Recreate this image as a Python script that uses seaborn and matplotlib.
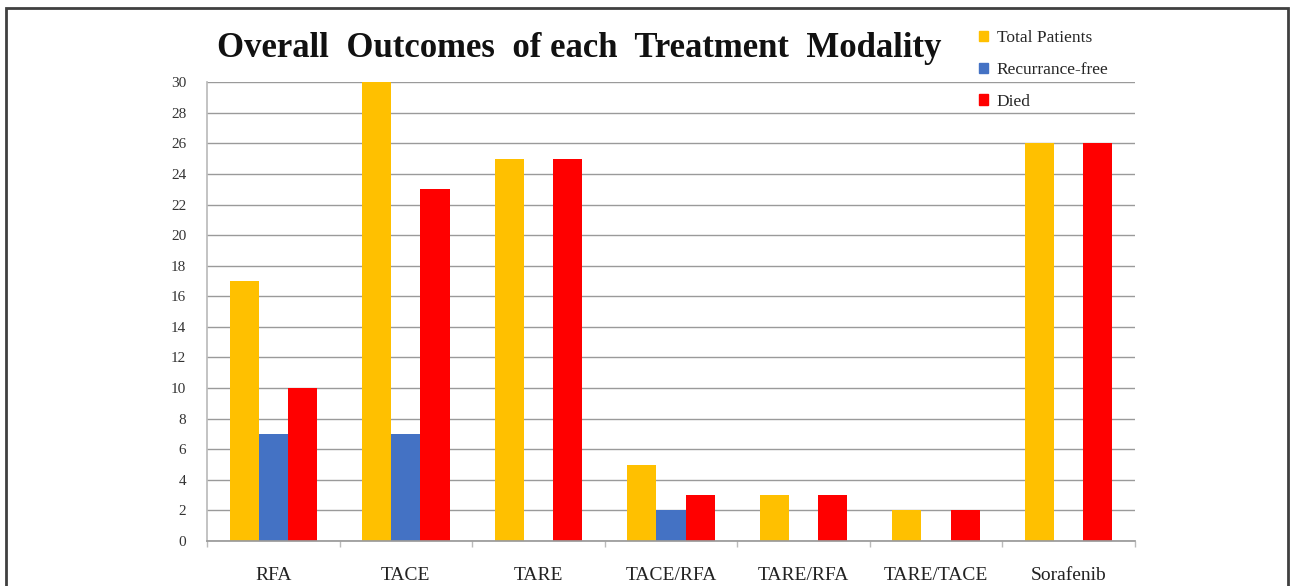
import matplotlib
matplotlib.use("Agg")
import matplotlib.pyplot as plt
import matplotlib.patches as mpatches
import numpy as np
import pandas as pd
import seaborn as sns

modalities = ["RFA", "TACE", "TARE", "TACE/RFA", "TARE/RFA", "TARE/TACE", "Sorafenib"]
total_patients = [17, 30, 25, 5, 3, 2, 26]
recurrence_free = [7, 7, 0, 2, 0, 0, 0]
died = [10, 23, 25, 3, 3, 2, 26]
series_names = ["Total Patients", "Recurrance-free", "Died"]
series_colors = ["#FFC000", "#4472C4", "#FF0000"]
y_ticks = list(range(0, 31, 2))

df = pd.DataFrame({
    "Modality": modalities * 3,
    "Series": [series_names[0]] * 7 + [series_names[1]] * 7 + [series_names[2]] * 7,
    "Count": total_patients + recurrence_free + died,
})

sns.set_theme(style="white")
plt.rcParams["font.family"] = ["Liberation Serif", "DejaVu Serif"]

fig = plt.figure(figsize=(12.96, 5.86), dpi=100)
ax = fig.add_axes([0.1597, 0.0768, 0.716, 0.783])

sns.barplot(data=df, x="Modality", y="Count", hue="Series", order=modalities,
            hue_order=series_names, palette=series_colors, width=0.66,
            saturation=1, linewidth=0, ax=ax, legend=False)

ax.set_ylim(0, 30)
ax.set_xlim(-0.5, len(modalities) - 0.5)
ax.set_yticks(y_ticks)
ax.set_yticklabels([str(t) for t in y_ticks], fontsize=11, color="#333333")
ax.set_xticks(range(len(modalities)))
ax.set_xticklabels(modalities, fontsize=14, color="#222222")
ax.set_xlabel("")
ax.set_ylabel("")
ax.grid(axis="y", color="#9a9a9a", linewidth=1)
ax.set_axisbelow(True)
for s in ["top", "right"]:
    ax.spines[s].set_visible(False)
ax.spines["left"].set_color("#bbbbbb")
ax.spines["bottom"].set_color("#9a9a9a")
ax.tick_params(axis="y", length=0, pad=15)
ax.tick_params(axis="x", length=0, pad=19)
ax.set_xticks(np.arange(-0.5, len(modalities), 1), minor=True)
ax.tick_params(axis="x", which="minor", length=4, color="#bbbbbb", bottom=True)

handles = [mpatches.Patch(color=c, label=n) for c, n in zip(series_colors, series_names)]
fig.legend(handles=handles, loc="upper left", bbox_to_anchor=(0.743, 0.975),
           frameon=False, fontsize=12.5, handlelength=0.55, handleheight=0.55,
           handletextpad=0.5, labelspacing=0.9)

fig.text(0.447, 0.918, "Overall  Outcomes  of each  Treatment  Modality",
         ha="center", va="center", fontsize=25, fontweight="bold", color="#111111")

fig.patches.append(mpatches.Rectangle((6 / 1296, -0.05), 1282 / 1296, 1 - 8 / 586 + 0.05,
                                      transform=fig.transFigure, fill=False,
                                      edgecolor="#404040", linewidth=2))

fig.savefig("out.png", dpi=100, facecolor="white")
